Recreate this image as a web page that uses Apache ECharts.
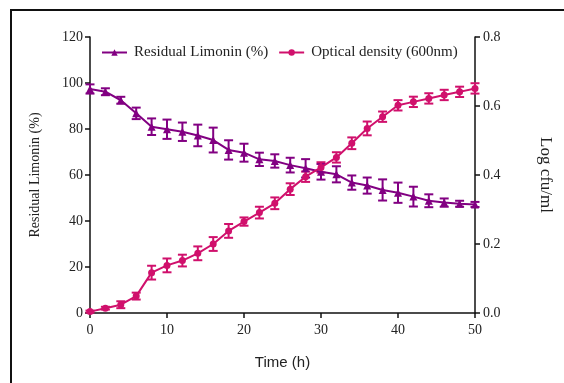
<!DOCTYPE html>
<html>
<head>
<meta charset="utf-8">
<script src="https://cdn.jsdelivr.net/npm/echarts@6/dist/echarts.min.js"></script>
<style>
  html, body { margin: 0; padding: 0; background: #fff; }
  #chart { width: 564px; height: 383px; }
</style>
</head>
<body>
<div id="chart"></div>
<script>
// Sampling times (h)
const hours = [0, 2, 4, 6, 8, 10, 12, 14, 16, 18, 20, 22, 24, 26, 28, 30, 32, 34, 36, 38, 40, 42, 44, 46, 48, 50];

// Residual limonin (%) with standard deviation
const limonin = [97.4, 96.2, 92.5, 86.8, 81.0, 79.9, 78.8, 77.2, 75.2, 70.9, 69.7, 66.8, 66.1, 64.3, 62.9, 61.4, 60.3, 56.7, 55.4, 53.5, 52.3, 50.6, 48.8, 48.0, 47.5, 47.2];
const limoninSd = [2.0, 1.5, 1.5, 2.5, 3.6, 4.2, 4.0, 4.7, 5.4, 4.2, 3.9, 2.9, 2.9, 3.2, 4.0, 3.4, 3.5, 3.1, 3.5, 4.6, 4.4, 4.3, 2.8, 1.8, 1.3, 1.1];

// Optical density at 600 nm (log cfu/ml) with standard deviation
const density = [0.004, 0.014, 0.024, 0.049, 0.117, 0.138, 0.152, 0.173, 0.200, 0.238, 0.265, 0.291, 0.318, 0.359, 0.395, 0.422, 0.451, 0.492, 0.535, 0.569, 0.602, 0.612, 0.622, 0.632, 0.641, 0.651];
const densitySd = [0.003, 0.004, 0.010, 0.010, 0.020, 0.020, 0.017, 0.020, 0.020, 0.020, 0.012, 0.017, 0.017, 0.017, 0.015, 0.015, 0.015, 0.017, 0.020, 0.015, 0.015, 0.015, 0.015, 0.015, 0.015, 0.015];

const leftTicks = [0, 20, 40, 60, 80, 100, 120];
const rightTicks = [0.0, 0.2, 0.4, 0.6, 0.8];

const PURPLE = '#820082';
const MAGENTA = '#d0106c';
const SERIF = '"Liberation Serif", "Times New Roman", serif';

function errorBars(values, sds) {
  return hours.map((t, i) => [t, values[i] - sds[i], values[i] + sds[i]]);
}

function renderErrorBar(color) {
  return function (params, api) {
    const x = api.value(0);
    const lo = api.coord([x, api.value(1)]);
    const hi = api.coord([x, api.value(2)]);
    const half = 4.5;
    const style = { stroke: color, lineWidth: 2 };
    return {
      type: 'group',
      children: [
        { type: 'line', shape: { x1: lo[0], y1: lo[1], x2: hi[0], y2: hi[1] }, style },
        { type: 'line', shape: { x1: lo[0] - half, y1: lo[1], x2: lo[0] + half, y2: lo[1] }, style },
        { type: 'line', shape: { x1: hi[0] - half, y1: hi[1], x2: hi[0] + half, y2: hi[1] }, style }
      ]
    };
  };
}

const axisLine = { show: true, lineStyle: { color: '#111', width: 1.5 } };
const axisTick = { show: true, length: 5, lineStyle: { color: '#111', width: 1.5 } };
const tickFont = { fontFamily: SERIF, fontSize: 14, color: '#222' };

const chart = echarts.init(document.getElementById('chart'), null, { renderer: 'canvas' });
chart.setOption({
  animation: false,
  backgroundColor: '#fff',
  graphic: [{
    type: 'rect',
    shape: { x: 11, y: 10, width: 700, height: 500 },
    style: { fill: 'none', stroke: '#111', lineWidth: 2 },
    silent: true
  }],
  grid: { left: 90, right: 89, top: 37, bottom: 70 },
  legend: {
    left: 96,
    top: 40,
    itemWidth: 25,
    itemHeight: 8,
    itemGap: 10,
    textStyle: { fontFamily: SERIF, fontSize: 15, color: '#222', padding: [0, 0, 0, 2] },
    data: ['Residual Limonin (%)', 'Optical density (600nm)']
  },
  xAxis: {
    type: 'value',
    min: 0, max: 50, interval: 10,
    name: 'Time (h)',
    nameLocation: 'middle',
    nameGap: 42,
    nameTextStyle: { fontFamily: '"Liberation Sans", Arial, sans-serif', fontSize: 15, color: '#222' },
    axisLine, axisTick,
    axisLabel: Object.assign({ margin: 10 }, tickFont),
    splitLine: { show: false }
  },
  yAxis: [{
    type: 'value',
    min: 0, max: 120, interval: 20,
    name: 'Residual Limonin (%)',
    nameLocation: 'middle',
    nameGap: 48,
    nameTextStyle: { fontFamily: SERIF, fontSize: 14, color: '#222' },
    axisLine, axisTick,
    axisLabel: Object.assign({ margin: 7, formatter: v => leftTicks.includes(v) ? String(v) : '' }, tickFont),
    splitLine: { show: false }
  }, {
    type: 'value',
    position: 'right',
    min: 0, max: 0.8, interval: 0.2,
    name: 'Log cfu/ml',
    nameLocation: 'middle',
    nameGap: 62,
    nameRotate: -90,
    nameTextStyle: { fontFamily: SERIF, fontSize: 17, color: '#222' },
    axisLine, axisTick,
    axisLabel: Object.assign({
      margin: 8,
      formatter: v => {
        const hit = rightTicks.find(r => Math.abs(r - v) < 1e-9);
        return hit === undefined ? '' : hit.toFixed(1);
      }
    }, tickFont),
    splitLine: { show: false }
  }],
  series: [{
    name: 'Residual Limonin (%)',
    type: 'line',
    yAxisIndex: 0,
    data: hours.map((t, i) => [t, limonin[i]]),
    symbol: 'triangle',
    symbolSize: 8,
    itemStyle: { color: PURPLE },
    lineStyle: { color: PURPLE, width: 2 },
    z: 3
  }, {
    name: 'Optical density (600nm)',
    type: 'line',
    yAxisIndex: 1,
    data: hours.map((t, i) => [t, density[i]]),
    symbol: 'circle',
    symbolSize: 7,
    itemStyle: { color: MAGENTA },
    lineStyle: { color: MAGENTA, width: 2 },
    z: 3
  }, {
    type: 'custom',
    yAxisIndex: 0,
    data: errorBars(limonin, limoninSd),
    renderItem: renderErrorBar(PURPLE),
    encode: { x: 0, y: [1, 2] },
    silent: true,
    z: 2
  }, {
    type: 'custom',
    yAxisIndex: 1,
    data: errorBars(density, densitySd),
    renderItem: renderErrorBar(MAGENTA),
    encode: { x: 0, y: [1, 2] },
    silent: true,
    z: 2
  }]
});
</script>
</body>
</html>
